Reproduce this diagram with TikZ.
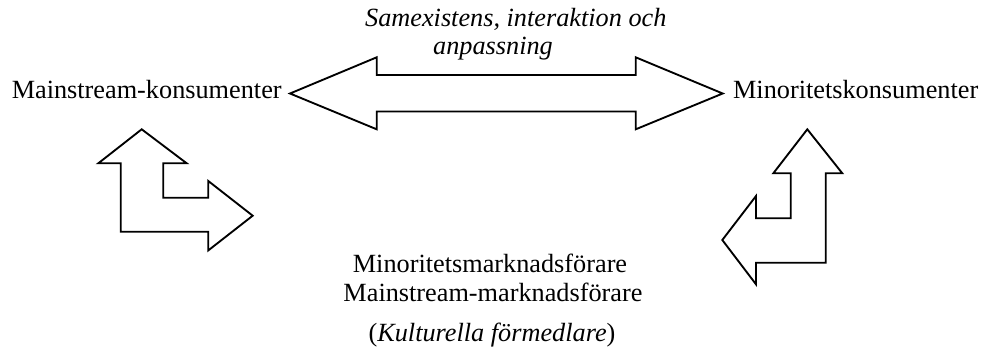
\documentclass[tikz,border=0pt]{standalone}
\usepackage{fontspec}
\setmainfont{Liberation Serif}
\begin{document}
\begin{tikzpicture}[x=0.75pt,y=-0.75pt,
  fatarrow/.style={draw=black, line width=1.4pt, line join=miter, fill=white},
  lbl/.style={inner sep=0pt, font=\fontsize{19.7}{23}\selectfont}]
\useasboundingbox (0,0) rectangle (984,354);
% labels
\node[lbl, anchor=base west] (mainc) at (11.5,98.5) {Mainstream-konsumenter};
\node[lbl, anchor=base east] (minc) at (978.5,98.5) {Minoritetskonsumenter};
\node[lbl, anchor=base] (topa) at (515.8,26) {\itshape Samexistens, interaktion och};
\node[lbl, anchor=base] (topb) at (493,54) {\itshape anpassning};
\node[lbl, anchor=base] (mida) at (490,272) {Minoritetsmarknadsförare};
\node[lbl, anchor=base] (midb) at (493,301) {Mainstream-marknadsförare};
\node[lbl, anchor=base] (midc) at (492,341.7) {(\textit{Kulturella förmedlare})};
% double arrow
\draw[fatarrow] (290,93.5) -- (376.7,57.3) -- (376.7,75) -- (635.7,75) -- (635.7,57.3)
  -- (722.7,93.5) -- (635.7,129.3) -- (635.7,111.5) -- (376.7,111.5) -- (376.7,129.3) -- cycle;
% left bent arrow
\draw[fatarrow] (141.7,129.3) -- (186.7,163.3) -- (163.3,163.3) -- (163.3,197.7) -- (208.3,197.7)
  -- (208.3,181) -- (252.7,215.7) -- (208.3,250.4) -- (208.3,231.7) -- (120.7,231.7)
  -- (120.7,163.3) -- (98.3,163.3) -- cycle;
% right bent arrow
\draw[fatarrow] (807.3,129.3) -- (842.3,173.3) -- (825.7,173.3) -- (825.7,262.7) -- (756,262.7)
  -- (756,284.3) -- (722.3,240) -- (756,196) -- (756,218.3) -- (790.7,218.3) -- (790.7,173.3)
  -- (773.3,173.3) -- cycle;
\end{tikzpicture}
\end{document}
